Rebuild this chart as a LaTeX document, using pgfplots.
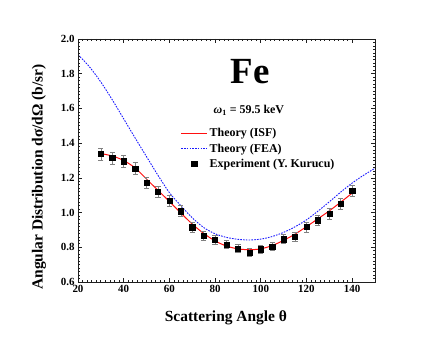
\documentclass[border=0pt]{standalone}
\usepackage{fontspec}
\setmainfont{Liberation Serif}
\usepackage{pgfplots}
\pgfplotsset{compat=1.18}
\definecolor{isfred}{rgb}{1,0.06,0.06}
\definecolor{feablue}{rgb}{0.1,0.1,1}
\definecolor{framegray}{rgb}{0.12,0.12,0.12}
\pgfplotsset{
  redline legend/.style={legend image code/.code={\draw[isfred, line width=1pt] (0bp,0bp) -- (26bp,0bp);}},
  blueline legend/.style={legend image code/.code={\draw[feablue, line width=0.9pt, dash pattern=on 1.6pt off 1.2pt] (0bp,0bp) -- (26bp,0bp);}},
  mark legend/.style={legend image code/.code={\draw[##1] plot coordinates {(13bp,0bp)};}},
}

\pgfplotstableread{
ang  dsdo   err
30   1.338  0.035
35   1.315  0.035
40   1.296  0.035
45   1.255  0.035
50   1.170  0.033
55   1.118  0.032
60   1.067  0.032
65   1.008  0.032
70   0.916  0.028
75   0.865  0.026
80   0.843  0.025
85   0.816  0.024
90   0.793  0.024
95   0.770  0.024
100  0.789  0.024
105  0.805  0.025
110  0.847  0.026
115  0.863  0.026
120  0.917  0.028
125  0.956  0.030
130  0.994  0.030
135  1.052  0.032
140  1.124  0.032
}\expdata

\begin{document}
\begin{tikzpicture}
\useasboundingbox (-78bp,-55bp) rectangle (358bp,282bp);
\begin{axis}[
    at={(0,0)}, anchor=south west,
    scale only axis,
    width=297bp, height=243bp,
    axis on top,
    xmin=20, xmax=150, ymin=0.6, ymax=2.0,
    xtick={20,40,...,140},
    ytick={0.6,0.8,...,2.01},
    minor x tick num=9,
    minor y tick num=9,
    tick align=inside,
    major tick length=4bp,
    minor tick length=2bp,
    axis line style={draw=framegray, line width=1pt},
    every tick/.append style={draw=framegray, line width=0.7pt},
    ticklabel style={font=\fontsize{11}{12}\selectfont\bfseries},
    /pgf/number format/assume math mode=true,
    yticklabel style={/pgf/number format/.cd, fixed, fixed zerofill, precision=1},
    xlabel={\bfseries Scattering Angle θ},
    ylabel={\bfseries Angular Distribution dσ/dΩ (b/sr)},
    label style={font=\fontsize{15.5}{17}\selectfont},
    xlabel style={at={(axis description cs:0.498,-0.148)}, anchor=center},
    ylabel style={at={(axis description cs:-0.131,0.432)}, anchor=center},
    legend style={at={(rel axis cs:0.345,0.64)}, anchor=north west,
        draw=none, inner sep=0pt,
        font=\fontsize{12}{14}\selectfont\bfseries,
        row sep=1.5pt},
    legend cell align=left,
]
\addplot[isfred, line width=1pt, smooth, tension=0.5, redline legend]
  coordinates {
    (30,1.340) (35,1.326) (40,1.300) (45,1.257) (50,1.193) (55,1.128)
    (60,1.064) (65,0.998) (70,0.934) (75,0.880) (80,0.837) (85,0.807)
    (90,0.791) (95,0.786) (100,0.791) (105,0.810) (110,0.840) (115,0.876)
    (120,0.919) (125,0.964) (130,1.010) (135,1.060) (140,1.112)
  };
\addlegendentry{Theory (ISF)}
\addplot[feablue, line width=0.9pt, dash pattern=on 1.6pt off 1.2pt, smooth, tension=0.5, blueline legend]
  coordinates {
    (20,1.910) (25,1.840) (30,1.752) (35,1.650) (40,1.540) (45,1.430)
    (50,1.322) (55,1.215) (60,1.115) (65,1.040) (70,0.970) (75,0.914)
    (80,0.878) (85,0.857) (90,0.846) (95,0.842) (100,0.847) (105,0.862)
    (110,0.886) (115,0.918) (120,0.958) (125,1.008) (130,1.062)
    (135,1.118) (140,1.170) (145,1.215) (150,1.255)
  };
\addlegendentry{Theory (FEA)}
\addplot[only marks, mark=square*, mark size=2.6pt, black, mark legend,
    error bars/.cd, y dir=both, y explicit,
    error bar style={gray, line width=0.6pt},
    error mark options={gray, mark size=2.6pt, line width=0.6pt, rotate=90},
    ]
  table[x=ang, y=dsdo, y error=err] {\expdata};
\addlegendentry{Experiment (Y. Kurucu)}
\draw[framegray, line width=1pt] (rel axis cs:0,0) rectangle (rel axis cs:1,1);
\node[font=\fontsize{37}{40}\selectfont\bfseries] at (axis cs:95.3,1.81) {Fe};
\node[font=\fontsize{12}{14}\selectfont\bfseries] at (axis cs:94.8,1.591)
  {\textit{ω}\textsubscript{1} = 59.5 keV};
\end{axis}
\end{tikzpicture}
\end{document}
